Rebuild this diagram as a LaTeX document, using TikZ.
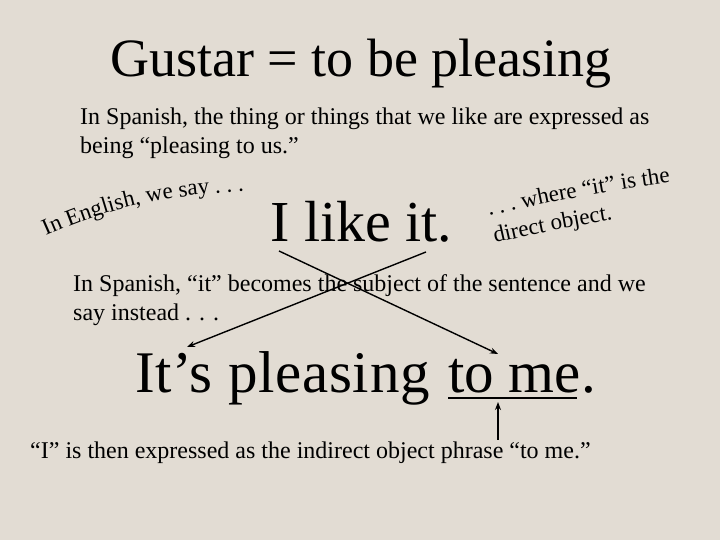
\documentclass[tikz,border=0pt]{standalone}
\usepackage{fontspec}
\setmainfont{Liberation Serif}
\usetikzlibrary{decorations.text, arrows.meta, calc}
\definecolor{bgpaper}{RGB}{226,220,211}
\tikzset{
  txt/.style={anchor=base west, inner sep=0pt, font=\fontsize{24}{30}\selectfont, align=left},
  big/.style={anchor=base west, inner sep=0pt, font=\fontsize{#1}{#1}\selectfont},
  conn/.style={line width=1.4pt, -{Stealth[length=8pt,width=6pt]}},
}
\begin{document}
\begin{tikzpicture}[x=1pt,y=1pt]
\fill[bgpaper] (0,0) rectangle (720,540);
\useasboundingbox (0,0) rectangle (720,540);
% title
\node[big=54] (title) at (110,463) {Gustar = to be pleasing};
% first paragraph
\node[txt] (p1a) at (80,415) {In Spanish, the thing or things that we like are expressed as};
\node[txt] (p1b) at (80,386) {being “pleasing to us.”};
% I like it
\node[big=58] (like) at (270,298) {I like it.};
% curved texts
{\fontsize{23}{23}\selectfont
\path[decorate, decoration={text along path, text={In English, we say . . .}}]
  (46,304) to[out=24,in=183] (300,352);
\path[decorate, decoration={text along path, text={. . . where “it” is the}}]
  (489,324) to[out=13,in=188] (700,362);
\path[decorate, decoration={text along path, text={direct object.}}]
  (495,297) to[out=13,in=189] (660,328);
}
% second paragraph
\node[txt] (p2a) at (73,248) {In Spanish, “it” becomes the subject of the sentence and we};
\node[txt] (p2b) at (73,219) {say instead . . .};
% It's pleasing to me
\node[big=59, font=\fontsize{59}{59}\selectfont\addfontfeature{LetterSpace=1.2}] (pleasing) at (135,147) {It’s pleasing};
\node[big=59] (tome) at (448,147) {to me};
\node[big=59] (stop) at (tome.base east) {.};
\draw[line width=2.6pt] ($(tome.base west)+(0,-5)$) -- ($(tome.base east)+(-4,-5)$);
% caption
\node[txt] (cap) at (30,81) {“I” is then expressed as the indirect object phrase “to me.”};
% connectors
\coordinate (srcI) at (279,289);
\coordinate (srcIt) at (426,288);
\coordinate (dstIts) at (187,193);
\coordinate (dstMe) at ($(tome.base west)+(50,39)$);
\coordinate (lineUnder) at ($(tome.base west)+(50,-9)$);
\coordinate (capTop) at ($(tome.base west)+(50,-47)$);
\draw[conn] (srcI) -- (dstMe);
\draw[conn] (srcIt) -- (dstIts);
\draw[conn] (capTop) -- (lineUnder);
\end{tikzpicture}
\end{document}
